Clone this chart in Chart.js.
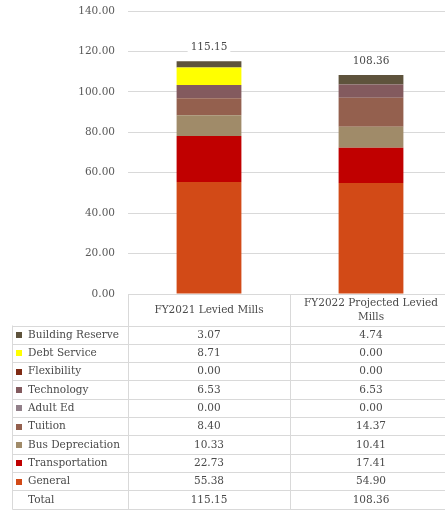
<!DOCTYPE html>
<html>
<head>
<meta charset="utf-8">
<script src="https://cdn.jsdelivr.net/npm/chart.js@4.4.1/dist/chart.umd.min.js"></script>
<style>
  html, body { margin: 0; padding: 0; background: #fff; overflow: hidden; }
  #wrap { position: relative; width: 452px; height: 510px; }
</style>
</head>
<body>
<div id="wrap"><canvas id="myChart"></canvas></div>
<script>
// Categorias y series (de abajo hacia arriba en la barra)
const categories = ['FY2021 Levied Mills', 'FY2022 Projected Levied Mills'];
const seriesNames = ['General', 'Transportation', 'Bus Depreciation', 'Tuition', 'Adult Ed',
    'Technology', 'Flexibility', 'Debt Service', 'Building Reserve'];
const fy2021 = [55.38, 22.73, 10.33, 8.40, 0.00, 6.53, 0.00, 8.71, 3.07];
const fy2022 = [54.90, 17.41, 10.41, 14.37, 0.00, 6.53, 0.00, 0.00, 4.74];
const totals = [115.15, 108.36];
const seriesColors = ['#d24a17', '#c00000', '#a08b69', '#94604e', '#92808a',
    '#835a5e', '#7f2b14', '#ffff00', '#5e533c'];
const yTicks = [0, 20, 40, 60, 80, 100, 120, 140];

const FONT = '10.5px "DejaVu Serif"';
const TEXT = '#4a4a4a';
const LINE = '#d9d9d9';

const datasets = seriesNames.map((name, i) => ({
    label: name,
    data: [fy2021[i], fy2022[i]],
    backgroundColor: seriesColors[i],
    borderWidth: 0,
    categoryPercentage: 1,
    barPercentage: 0.4
}));

// Corta el texto del encabezado en varias lineas si no cabe
function wrapText(ctx, text, maxWidth) {
    const words = text.split(' ');
    const lines = [];
    let line = '';
    words.forEach(w => {
        const test = line ? line + ' ' + w : w;
        if (ctx.measureText(test).width > maxWidth && line) {
            lines.push(line);
            line = w;
        } else {
            line = test;
        }
    });
    lines.push(line);
    return lines;
}

// Totales sobre cada barra y tabla de datos debajo del grafico
const tablePlugin = {
    id: 'dataTable',
    afterDraw: (chart) => {
        const {ctx, chartArea, scales} = chart;
        const x = scales.x;
        const y = scales.y;
        const colW = (chartArea.right - chartArea.left) / categories.length;
        const tableLeft = 12.5;
        const headTop = Math.round(chartArea.bottom) + 0.5;
        const rowTop = headTop + 31;
        const rowH = 18.3;
        const rows = seriesNames.length + 1;

        ctx.save();
        ctx.font = FONT;
        ctx.textAlign = 'center';
        ctx.textBaseline = 'middle';

        // totales
        totals.forEach((t, i) => {
            const cx = x.getPixelForValue(i);
            const cy = y.getPixelForValue(t) - 15;
            const w = ctx.measureText(t.toFixed(2)).width + 6;
            ctx.fillStyle = '#fff';
            ctx.fillRect(cx - w / 2, cy - 7, w, 14);
            ctx.fillStyle = TEXT;
            ctx.fillText(t.toFixed(2), cx, cy + 1);
        });

        // lineas de la tabla
        ctx.strokeStyle = LINE;
        ctx.lineWidth = 1;
        ctx.beginPath();
        ctx.moveTo(chartArea.left, headTop);
        ctx.lineTo(chartArea.right, headTop);
        for (let r = 0; r <= rows; r++) {
            const ly = Math.round(rowTop + r * rowH) + 0.5;
            ctx.moveTo(tableLeft, ly);
            ctx.lineTo(chartArea.right, ly);
        }
        const bottom = Math.round(rowTop + rows * rowH) + 0.5;
        ctx.moveTo(tableLeft, rowTop);
        ctx.lineTo(tableLeft, bottom);
        for (let c = 0; c <= categories.length; c++) {
            const lx = Math.round(chartArea.left + c * colW) + 0.5;
            ctx.moveTo(lx, headTop);
            ctx.lineTo(lx, bottom);
        }
        ctx.stroke();

        // encabezados
        ctx.fillStyle = TEXT;
        categories.forEach((cat, i) => {
            const cx = x.getPixelForValue(i);
            const lines = wrapText(ctx, cat, colW - 10);
            const lh = 14;
            const startY = headTop + 15.5 - (lines.length - 1) * lh / 2;
            lines.forEach((l, k) => ctx.fillText(l, cx, startY + k * lh));
        });

        // filas: de arriba hacia abajo en orden inverso al apilado
        for (let r = 0; r < rows; r++) {
            const cy = rowTop + r * rowH + rowH / 2 + 0.5;
            let name, vals, color = null;
            if (r < seriesNames.length) {
                const s = seriesNames.length - 1 - r;
                name = seriesNames[s];
                vals = [fy2021[s], fy2022[s]];
                color = seriesColors[s];
            } else {
                name = 'Total';
                vals = totals;
            }
            if (color) {
                ctx.fillStyle = color;
                ctx.fillRect(16, Math.round(cy) - 3, 6, 6);
            }
            ctx.fillStyle = TEXT;
            ctx.textAlign = 'left';
            ctx.fillText(name, 28, cy);
            ctx.textAlign = 'center';
            vals.forEach((v, i) => ctx.fillText(v.toFixed(2), x.getPixelForValue(i), cy));
        }
        ctx.restore();
    }
};

const config = {
    type: 'bar',
    data: { labels: categories, datasets },
    options: {
        responsive: true,
        maintainAspectRatio: false,
        animation: false,
        layout: { padding: { top: 11, bottom: 216, left: 0, right: 0 } },
        plugins: {
            legend: { display: false },
            tooltip: { enabled: false }
        },
        scales: {
            x: {
                stacked: true,
                display: false
            },
            y: {
                stacked: true,
                min: 0,
                max: 140,
                afterBuildTicks: (scale) => { scale.ticks = yTicks.map(v => ({ value: v })); },
                afterFit: (scale) => {
                    scale.width = 128;
                    scale.paddingTop = 0;
                    scale.paddingBottom = 0;
                },
                border: { display: false },
                grid: { color: LINE, drawTicks: false },
                ticks: {
                    padding: 13,
                    color: '#595959',
                    font: { family: 'DejaVu Serif', size: 10.5 },
                    callback: (v) => Number(v).toFixed(2)
                }
            }
        }
    },
    plugins: [tablePlugin]
};

const myChart = new Chart(document.querySelector('#myChart'), config);
</script>
</body>
</html>
